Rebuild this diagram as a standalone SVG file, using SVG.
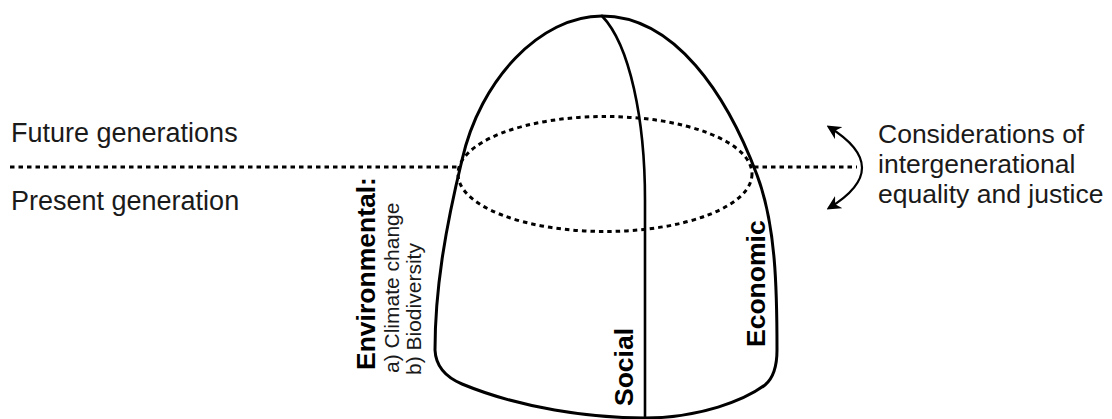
<svg xmlns="http://www.w3.org/2000/svg" width="1112" height="419" viewBox="0 0 1112 419">
<style>
.solid{fill:none;stroke:#000;stroke-width:3;stroke-linecap:round;stroke-linejoin:round}
.dot{fill:none;stroke:#000;stroke-width:3;stroke-dasharray:4.5 4}
.lbl{font-family:"Liberation Sans",Arial,sans-serif;fill:#1a1a1a}
.big{font-size:27px}
.rt{font-size:26.5px}
.dim{font-family:"Liberation Sans",Arial,sans-serif;font-weight:bold;font-size:26.5px;fill:#000}
.sub{font-family:"Liberation Sans",Arial,sans-serif;font-size:21px;fill:#1a1a1a}
</style>
<defs>
<marker id="ah" viewBox="0 0 10 10" refX="8" refY="5" markerWidth="6.5" markerHeight="6.5" orient="auto-start-reverse" markerUnits="strokeWidth">
<path d="M0,0 L10,5 L0,10 L3,5 Z" fill="#000"/>
</marker>
</defs>
<rect width="1112" height="419" fill="#fff"/>
<g id="dome">
<path class="solid" d="M602,16 C540,16 480,80 462,160 C445,230 435,290 435,350 Q436,373 462,384 C520,408 590,418 645,418 C700,418 745,400 765,385 Q777,375 777,350 C777,290 776,225 757,175 C727,95 675,16 602,16 Z"/>
<path class="solid" style="stroke-width:2.6" d="M602,16 C630,45 645,120 645,200 L645,418"/>
</g>
<g id="ring">
<ellipse class="dot" cx="605" cy="174" rx="147" ry="57.5"/>
</g>
<g id="connectors">
<line class="dot" x1="10" y1="167" x2="460" y2="167"/>
<line class="dot" x1="754" y1="167" x2="857" y2="167"/>
<path d="M829,127 Q895,168 829,208" fill="none" stroke="#000" stroke-width="2.2" marker-start="url(#ah)" marker-end="url(#ah)"/>
</g>
<g id="future-label"><text class="lbl big" x="11" y="142">Future generations</text></g>
<g id="present-label"><text class="lbl big" x="11" y="210">Present generation</text></g>
<g id="considerations-label">
<text class="lbl rt" x="878" y="143">Considerations of</text>
<text class="lbl rt" x="878" y="173">intergenerational</text>
<text class="lbl rt" x="878" y="203">equality and justice</text>
</g>
<g id="environmental-label">
<text class="dim" transform="translate(375,370) rotate(-90)">Environmental:</text>
<text class="sub" transform="translate(399,373) rotate(-90)">a) Climate change</text>
<text class="sub" transform="translate(421,375) rotate(-90)">b) Biodiversity</text>
</g>
<g id="social-label"><text class="dim" transform="translate(633,406) rotate(-90)">Social</text></g>
<g id="economic-label"><text class="dim" transform="translate(765,347) rotate(-90)">Economic</text></g>
</svg>
